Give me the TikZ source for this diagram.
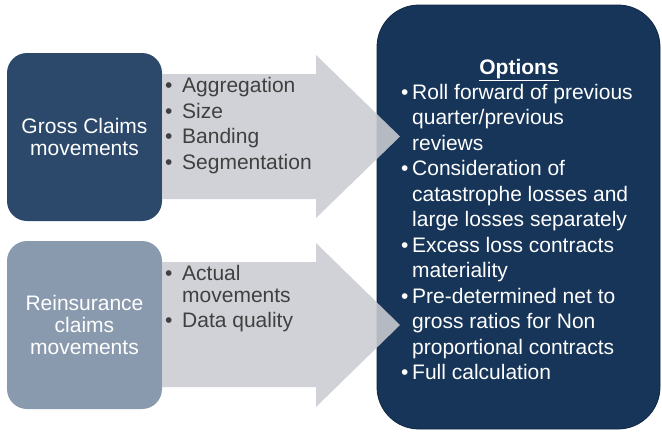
\documentclass[tikz,border=0pt]{standalone}
\usepackage{fontspec}
\setmainfont{Liberation Sans}
\definecolor{grossblue}{RGB}{44,73,107}
\definecolor{reinblue}{RGB}{138,154,174}
\definecolor{optblue}{RGB}{22,53,88}
\definecolor{optedge}{RGB}{14,38,66}
\definecolor{arrowgray}{RGB}{202,204,209}
\definecolor{listgray}{RGB}{64,64,64}
\newcommand{\bul}[1]{\makebox[#1][l]{\textbullet}}
\begin{document}
\begin{tikzpicture}[x=1pt,y=-1pt,
  srcbox/.style={rounded corners=20pt, minimum width=155pt, minimum height=168pt,
    inner sep=0pt, text=white, align=center, font=\fontsize{21}{22}\selectfont},
  arrowshape/.style={fill=arrowgray, fill opacity=0.88, draw=none},
  listtext/.style={anchor=north west, inner sep=0pt, align=left, text=listgray,
    font=\fontsize{21}{25.5}\selectfont},
  opttext/.style={anchor=north west, inner sep=0pt, align=left, text=white,
    font=\fontsize{21}{25.5}\selectfont}]
\useasboundingbox (0,0) rectangle (662,432);
% source boxes
\node[srcbox, fill=grossblue] (gross) at (84.5,137) {Gross Claims\\movements};
\node[srcbox, fill=reinblue] (rein) at (84.5,325) {Reinsurance\\claims\\movements};
% options box
\node[rounded corners=42pt, fill=optblue, draw=optedge, line width=0.8pt,
  minimum width=283pt, minimum height=424pt, inner sep=0pt] (opts) at (518.5,217) {};
% arrows
\fill[arrowshape] (162,74) -- (316,74) -- (316,55) -- (400,136.5) -- (316,218)
  -- (316,199) -- (162,199) -- cycle;
\fill[arrowshape] (162,262) -- (316,262) -- (316,243) -- (400,325) -- (316,407)
  -- (316,387) -- (162,387) -- cycle;
% arrow texts
\node[listtext] (grosslist) at (165,77.5)
  {\bul{17pt}Aggregation\\ \bul{17pt}Size\\ \bul{17pt}Banding\\ \bul{17pt}Segmentation};
\node[listtext, font=\fontsize{21}{22}\selectfont] (reinlist) at (165,265.5)
  {\bul{17pt}Actual\\ \hspace*{17pt}movements\\[3pt] \bul{17pt}Data quality};
% options text
\node[anchor=base, text=white, font=\fontsize{21}{25}\selectfont\bfseries]
  (opttitle) at (519,74.5) {\underline{Options}};
\node[opttext] (optlist) at (401,84)
  {\bul{11pt}Roll forward of previous\\
   \hspace*{11pt}quarter/previous\\
   \hspace*{11pt}reviews\\
   \bul{11pt}Consideration of\\
   \hspace*{11pt}catastrophe losses and\\
   \hspace*{11pt}large losses separately\\
   \bul{11pt}Excess loss contracts\\
   \hspace*{11pt}materiality\\
   \bul{11pt}Pre-determined net to\\
   \hspace*{11pt}gross ratios for Non\\
   \hspace*{11pt}proportional contracts\\
   \bul{11pt}Full calculation};
\end{tikzpicture}
\end{document}
